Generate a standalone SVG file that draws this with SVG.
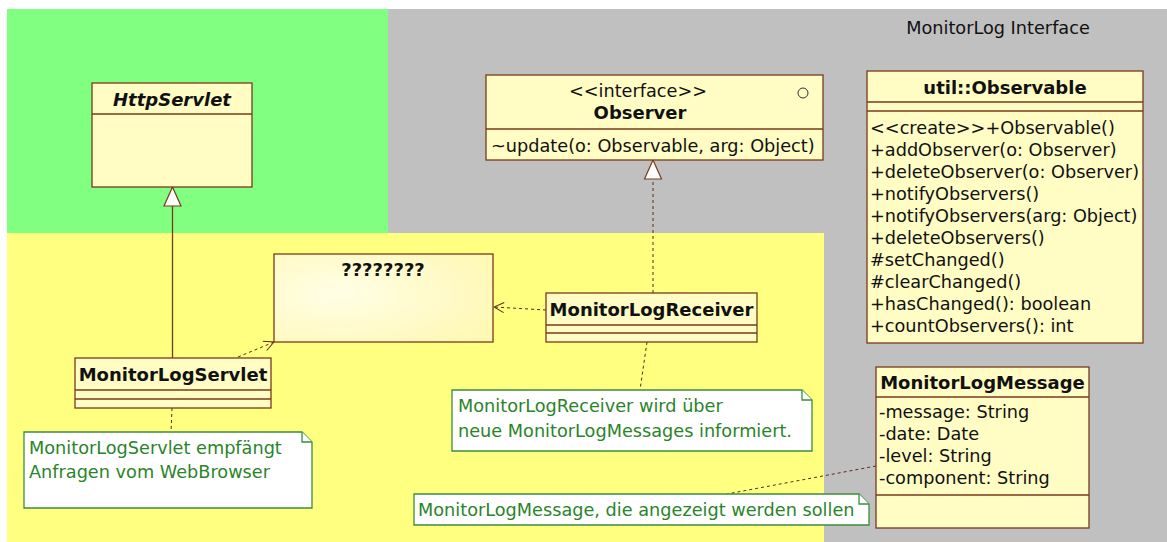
<svg xmlns="http://www.w3.org/2000/svg" width="1167" height="542" viewBox="0 0 1167 542">
  <style>
    .cls { fill: #fffcc4; stroke: #7a3a1c; stroke-width: 1.3; }
    .sep { stroke: #7a3a1c; stroke-width: 1.3; }
    .note { fill: #ffffff; stroke: #3c8c3c; stroke-width: 1.3; }
    .ntext { font-family: "DejaVu Sans", Verdana, sans-serif; font-size: 17.7px; fill: #2a842a; }
    .t { font-family: "DejaVu Sans", Verdana, sans-serif; font-size: 17.7px; fill: #111; }
    .b { font-family: "DejaVu Sans", Verdana, sans-serif; font-size: 18px; font-weight: bold; fill: #111; }
    .dash { fill: none; stroke: #5a2a1a; stroke-width: 1; stroke-dasharray: 3 3; }
    .solid { fill: none; stroke: #7a3a1c; stroke-width: 1.3; }
  </style>
  <defs>
    <!-- hollow triangle for generalization / realization, tip on the line end -->
    <marker id="tri" viewBox="0 0 21 20" refX="20" refY="10" markerWidth="21" markerHeight="20" markerUnits="userSpaceOnUse" orient="auto">
      <path d="M20 10 L1 1.5 L1 18.5 Z" fill="#ffffff" stroke="#7a3a1c" stroke-width="1.2"/>
    </marker>
    <!-- open arrowhead for dependencies -->
    <marker id="open" viewBox="0 0 12 12" refX="11" refY="6" markerWidth="12" markerHeight="12" markerUnits="userSpaceOnUse" orient="auto">
      <path d="M1 1 L11 6 L1 11" fill="none" stroke="#5a2a1a" stroke-width="1"/>
    </marker>
    <radialGradient id="soft" cx="0.3" cy="0.45" r="0.8">
      <stop offset="0" stop-color="#fffee6"/>
      <stop offset="1" stop-color="#fff8b4"/>
    </radialGradient>
  </defs>

  <!-- package / area backgrounds -->
  <rect x="0" y="0" width="1167" height="542" fill="#ffffff"/>
  <rect x="388" y="9" width="779" height="533" fill="#c0c0c0"/>
  <rect x="7" y="9" width="381" height="224" fill="#80ff80"/>
  <rect x="7" y="233" width="817" height="309" fill="#ffff80"/>
  <text class="t" x="998" y="34" text-anchor="middle">MonitorLog Interface</text>

  <!-- connectors -->
  <g id="connectors">
    <path class="solid" d="M172.5 358 V187" marker-end="url(#tri)"/>
    <path class="dash" d="M653 293 V160" marker-end="url(#tri)"/>
    <path class="dash" d="M546 310 L494 307" marker-end="url(#open)"/>
    <path class="dash" d="M238 357 L274 342" marker-end="url(#open)"/>
    <path class="dash" d="M172 408 L171 432"/>
    <path class="dash" d="M647 342 L640 390"/>
    <path class="dash" d="M876 466 L727 494"/>
  </g>

  <g id="HttpServlet">
    <rect class="cls" x="92" y="83" width="160" height="104"/>
    <line class="sep" x1="92" y1="114" x2="252" y2="114"/>
    <text class="b" x="172" y="106" text-anchor="middle" font-style="italic">HttpServlet</text>
  </g>

  <g id="Observer">
    <rect class="cls" x="486" y="75" width="337" height="85"/>
    <line class="sep" x1="486" y1="129" x2="823" y2="129"/>
    <text class="t" x="638" y="97" text-anchor="middle">&lt;&lt;interface&gt;&gt;</text>
    <text class="b" x="640" y="119" text-anchor="middle">Observer</text>
    <circle cx="803" cy="93" r="5" fill="none" stroke="#333" stroke-width="1"/>
    <text class="t" x="491" y="152">~update(o: Observable, arg: Object)</text>
  </g>

  <g id="Observable">
    <rect class="cls" x="867" y="71" width="276" height="272"/>
    <line class="sep" x1="867" y1="102" x2="1143" y2="102"/>
    <line class="sep" x1="867" y1="111" x2="1143" y2="111"/>
    <text class="b" x="1005" y="94" text-anchor="middle">util::Observable</text>
    <text class="t" x="870" y="134">&lt;&lt;create&gt;&gt;+Observable()</text>
    <text class="t" x="870" y="156">+addObserver(o: Observer)</text>
    <text class="t" x="870" y="178">+deleteObserver(o: Observer)</text>
    <text class="t" x="870" y="200">+notifyObservers()</text>
    <text class="t" x="870" y="222">+notifyObservers(arg: Object)</text>
    <text class="t" x="870" y="244">+deleteObservers()</text>
    <text class="t" x="870" y="266">#setChanged()</text>
    <text class="t" x="870" y="288">#clearChanged()</text>
    <text class="t" x="870" y="310">+hasChanged(): boolean</text>
    <text class="t" x="870" y="332">+countObservers(): int</text>
  </g>

  <g id="Unknown">
    <rect x="274" y="254" width="219" height="88" fill="url(#soft)" stroke="#7a3a1c" stroke-width="1.3"/>
    <text class="b" x="383" y="276" text-anchor="middle">????????</text>
  </g>

  <g id="MonitorLogReceiver">
    <rect class="cls" x="546" y="293" width="211" height="49"/>
    <line class="sep" x1="546" y1="325" x2="757" y2="325"/>
    <line class="sep" x1="546" y1="333" x2="757" y2="333"/>
    <text class="b" x="651.5" y="316" text-anchor="middle">MonitorLogReceiver</text>
  </g>

  <g id="MonitorLogServlet">
    <rect class="cls" x="75" y="358" width="196" height="50"/>
    <line class="sep" x1="75" y1="390" x2="271" y2="390"/>
    <line class="sep" x1="75" y1="399" x2="271" y2="399"/>
    <text class="b" x="173" y="381" text-anchor="middle">MonitorLogServlet</text>
  </g>

  <g id="MonitorLogMessage">
    <rect class="cls" x="876" y="367" width="213" height="161"/>
    <line class="sep" x1="876" y1="397" x2="1089" y2="397"/>
    <line class="sep" x1="876" y1="495" x2="1089" y2="495"/>
    <text class="b" x="982.5" y="389" text-anchor="middle">MonitorLogMessage</text>
    <text class="t" x="879" y="418">-message: String</text>
    <text class="t" x="879" y="440">-date: Date</text>
    <text class="t" x="879" y="462">-level: String</text>
    <text class="t" x="879" y="484">-component: String</text>
  </g>

  <g id="NoteServlet">
    <path class="note" d="M24 432 H302 L312 442 V508 H24 Z"/>
    <path class="note" d="M302 432 V442 H312" fill="none"/>
    <text class="ntext" x="29" y="454">MonitorLogServlet empfängt</text>
    <text class="ntext" x="29" y="478">Anfragen vom WebBrowser</text>
  </g>

  <g id="NoteReceiver">
    <path class="note" d="M452 390 H802 L812 400 V451 H452 Z"/>
    <path class="note" d="M802 390 V400 H812" fill="none"/>
    <text class="ntext" x="458" y="412">MonitorLogReceiver wird über</text>
    <text class="ntext" x="458" y="437">neue MonitorLogMessages informiert.</text>
  </g>

  <g id="NoteMessage">
    <path class="note" d="M414 494 H859 L869 504 V525 H414 Z"/>
    <path class="note" d="M859 494 V504 H869" fill="none"/>
    <text class="ntext" x="418" y="516">MonitorLogMessage, die angezeigt werden sollen</text>
  </g>
</svg>
